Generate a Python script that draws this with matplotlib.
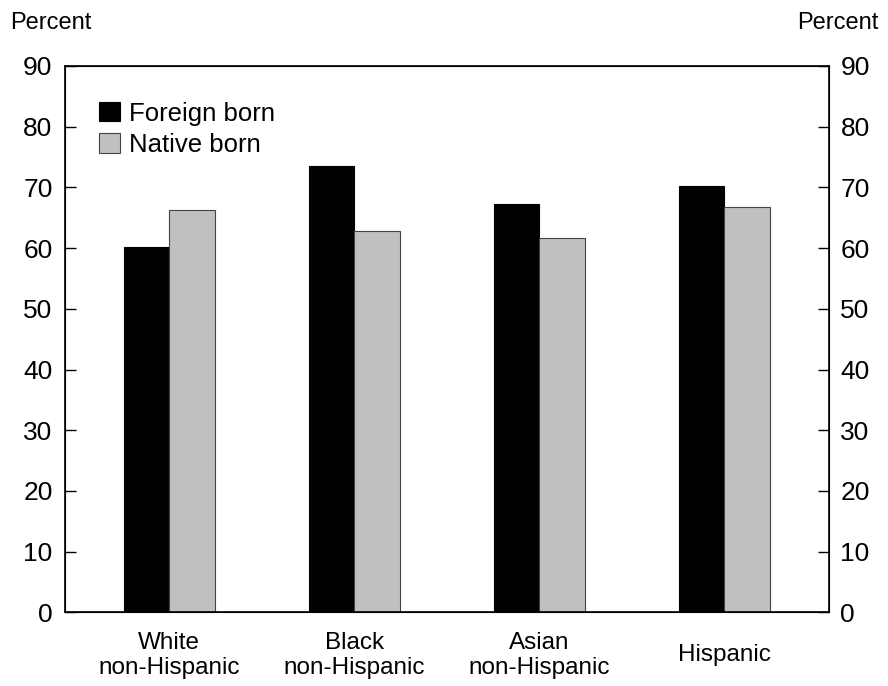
import matplotlib.pyplot as plt
import numpy as np

plt.rcParams['font.family'] = ['Liberation Sans', 'DejaVu Sans']

categories = ['White\nnon-Hispanic', 'Black\nnon-Hispanic', 'Asian\nnon-Hispanic', 'Hispanic']
foreign_born = [60.1, 73.5, 67.2, 70.2]
native_born = [66.2, 62.8, 61.7, 66.8]
yticks = [0, 10, 20, 30, 40, 50, 60, 70, 80, 90]

fig = plt.figure(figsize=(8.88, 6.86), dpi=100)
ax = fig.add_axes([0.0732, 0.1074, 0.8607, 0.7964])

x = np.arange(len(categories))
w = 0.246
ax.bar(x - w / 2, foreign_born, w, color='black', edgecolor='black', linewidth=0.8, label='Foreign born')
ax.bar(x + w / 2, native_born, w, color='#c0c0c0', edgecolor='#444444', linewidth=0.8, label='Native born')

ax.set_xlim(-0.563, 3.569)
ax.set_ylim(0, 90)
ax.set_yticks(yticks)
ax.set_xticks(x)
ax.set_xticklabels(categories, fontsize=17.5, va='center', linespacing=1.2)
ax.tick_params(axis='x', length=0, pad=31)
ax.tick_params(axis='y', direction='in', length=8, width=1, labelsize=19, pad=9)
for s in ax.spines.values():
    s.set_linewidth(1.2)

ax2 = ax.twinx()
ax2.set_ylim(0, 90)
ax2.set_yticks(yticks)
ax2.tick_params(axis='y', direction='in', length=8, width=1, labelsize=19, pad=8)

fig.text(0.011, 0.966, 'Percent', fontsize=17, va='center', ha='left')
fig.text(0.989, 0.966, 'Percent', fontsize=17, va='center', ha='right')

leg = ax.legend(loc='upper left', bbox_to_anchor=(0.045, 0.935), frameon=False, fontsize=18.5,
                handlelength=0.8, handleheight=0.8, handletextpad=0.35, labelspacing=0.28,
                borderaxespad=0, borderpad=0)

fig.savefig('out.png', dpi=100)
